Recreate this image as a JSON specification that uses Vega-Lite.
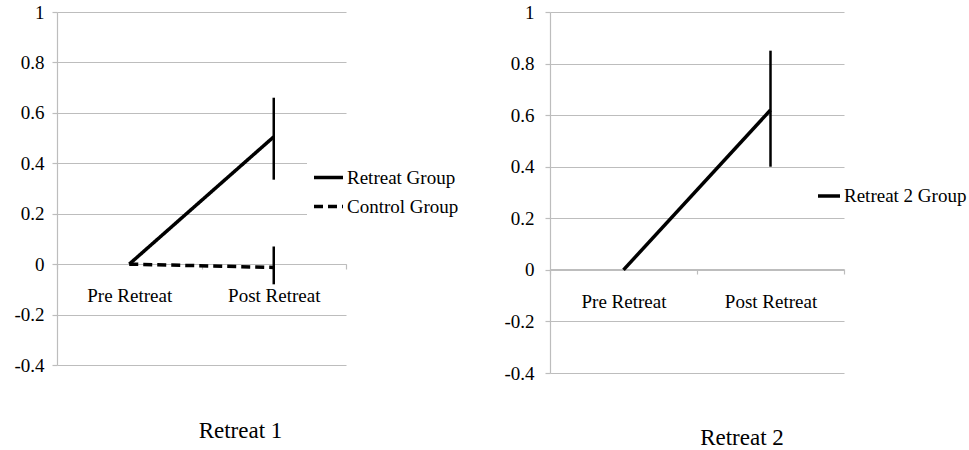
{
  "$schema": "https://vega.github.io/schema/vega-lite/v6.json",
  "background": "white",
  "padding": {"left": 13, "top": 3, "right": 0, "bottom": 0},
  "spacing": 39,
  "resolve": {"scale": {"color": "independent", "strokeDash": "independent"}, "legend": {"color": "independent", "strokeDash": "independent"}},
  "config": {
    "font": "Liberation Serif, serif",
    "view": {"stroke": null},
    "axis": {
      "labelFont": "Liberation Serif, serif",
      "labelFontSize": 19,
      "labelColor": "black",
      "domainColor": "#bdbdbd",
      "tickColor": "#bdbdbd",
      "gridColor": "#bdbdbd",
      "domainWidth": 1.2,
      "gridWidth": 1.2,
      "tickWidth": 1.2,
      "tickSize": 5,
      "title": null
    },
    "title": {"font": "Liberation Serif, serif", "fontSize": 23, "fontWeight": "normal", "color": "black", "orient": "bottom", "offset": 45},
    "legend": {
      "orient": "none",
      "title": null,
      "symbolType": "stroke",
      "symbolStrokeWidth": 3.5,
      "symbolStrokeColor": "black",
      "labelFont": "Liberation Serif, serif",
      "labelFontSize": 19,
      "labelColor": "black",
      "labelOffset": 2,
      "padding": 5,
      "fillColor": "white",
      "rowPadding": 2
    }
  },
  "datasets": {
    "r1": [
      {"group": "Retreat Group", "time": "Pre Retreat", "value": 0, "lower": null, "upper": null},
      {"group": "Retreat Group", "time": "Post Retreat", "value": 0.505, "lower": 0.335, "upper": 0.66},
      {"group": "Control Group", "time": "Pre Retreat", "value": 0, "lower": null, "upper": null},
      {"group": "Control Group", "time": "Post Retreat", "value": -0.013, "lower": -0.08, "upper": 0.07}
    ],
    "r2": [
      {"group": "Retreat 2 Group", "time": "Pre Retreat", "value": 0, "lower": null, "upper": null},
      {"group": "Retreat 2 Group", "time": "Post Retreat", "value": 0.62, "lower": 0.4, "upper": 0.85}
    ]
  },
  "hconcat": [
    {
      "width": 289,
      "height": 353,
      "title": {"text": "Retreat 1", "dx": 39},
      "data": {"name": "r1"},
      "layer": [
        {
          "mark": {"type": "line", "strokeWidth": 3.5},
          "encoding": {
            "x": {"field": "time", "type": "nominal", "sort": ["Pre Retreat", "Post Retreat"], "bandPosition": 0.5,
              "scale": {"type": "band", "paddingInner": 0, "paddingOuter": 0},
              "axis": {"orient": "bottom", "offset": -101, "labelAngle": 0, "labelPadding": 17, "tickBand": "extent", "grid": false, "labelFont": "Liberation Serif"}},
            "y": {"field": "value", "type": "quantitative",
              "scale": {"domain": [-0.4, 1], "nice": false, "zero": false},
              "axis": {"values": [-0.4, -0.2, 0, 0.2, 0.4, 0.6, 0.8, 1], "labelExpr": "'' + datum.value", "grid": true, "labelPadding": 8, "labelFont": "Liberation Serif"}},
            "color": {"field": "group", "type": "nominal", "sort": ["Retreat Group", "Control Group"],
              "scale": {"range": ["black", "black"]},
              "legend": {"legendX": 250, "legendY": 144, "symbolSize": 841}},
            "strokeDash": {"field": "group", "type": "nominal", "sort": ["Retreat Group", "Control Group"],
              "scale": {"range": [[1, 0], [9, 5]]},
              "legend": {"legendX": 250, "legendY": 144, "symbolSize": 841}}
          }
        },
        {
          "transform": [{"filter": "datum.time == 'Post Retreat'"}],
          "mark": {"type": "rule", "strokeWidth": 2.5, "color": "black"},
          "encoding": {
            "x": {"field": "time", "type": "nominal", "sort": ["Pre Retreat", "Post Retreat"], "bandPosition": 0.5},
            "y": {"field": "lower", "type": "quantitative"},
            "y2": {"field": "upper"}
          }
        }
      ]
    },
    {
      "width": 294,
      "height": 361,
      "title": {"text": "Retreat 2", "dx": 45, "offset": 44},
      "data": {"name": "r2"},
      "layer": [
        {
          "mark": {"type": "line", "strokeWidth": 3.5},
          "encoding": {
            "x": {"field": "time", "type": "nominal", "sort": ["Pre Retreat", "Post Retreat"], "bandPosition": 0.5,
              "scale": {"type": "band", "paddingInner": 0, "paddingOuter": 0},
              "axis": {"orient": "bottom", "offset": -104, "labelAngle": 0, "labelPadding": 18, "tickBand": "extent", "grid": false, "labelFont": "Liberation Serif"}},
            "y": {"field": "value", "type": "quantitative",
              "scale": {"domain": [-0.4, 1], "nice": false, "zero": false},
              "axis": {"values": [-0.4, -0.2, 0, 0.2, 0.4, 0.6, 0.8, 1], "labelExpr": "'' + datum.value", "grid": true, "labelPadding": 11, "labelFont": "Liberation Serif"}},
            "color": {"field": "group", "type": "nominal",
              "scale": {"range": ["black"]},
              "legend": {"legendX": 261, "legendY": 166, "symbolSize": 484}}
          }
        },
        {
          "transform": [{"filter": "datum.time == 'Post Retreat'"}],
          "mark": {"type": "rule", "strokeWidth": 2.5, "color": "black"},
          "encoding": {
            "x": {"field": "time", "type": "nominal", "sort": ["Pre Retreat", "Post Retreat"], "bandPosition": 0.5},
            "y": {"field": "lower", "type": "quantitative"},
            "y2": {"field": "upper"}
          }
        }
      ]
    }
  ]
}
